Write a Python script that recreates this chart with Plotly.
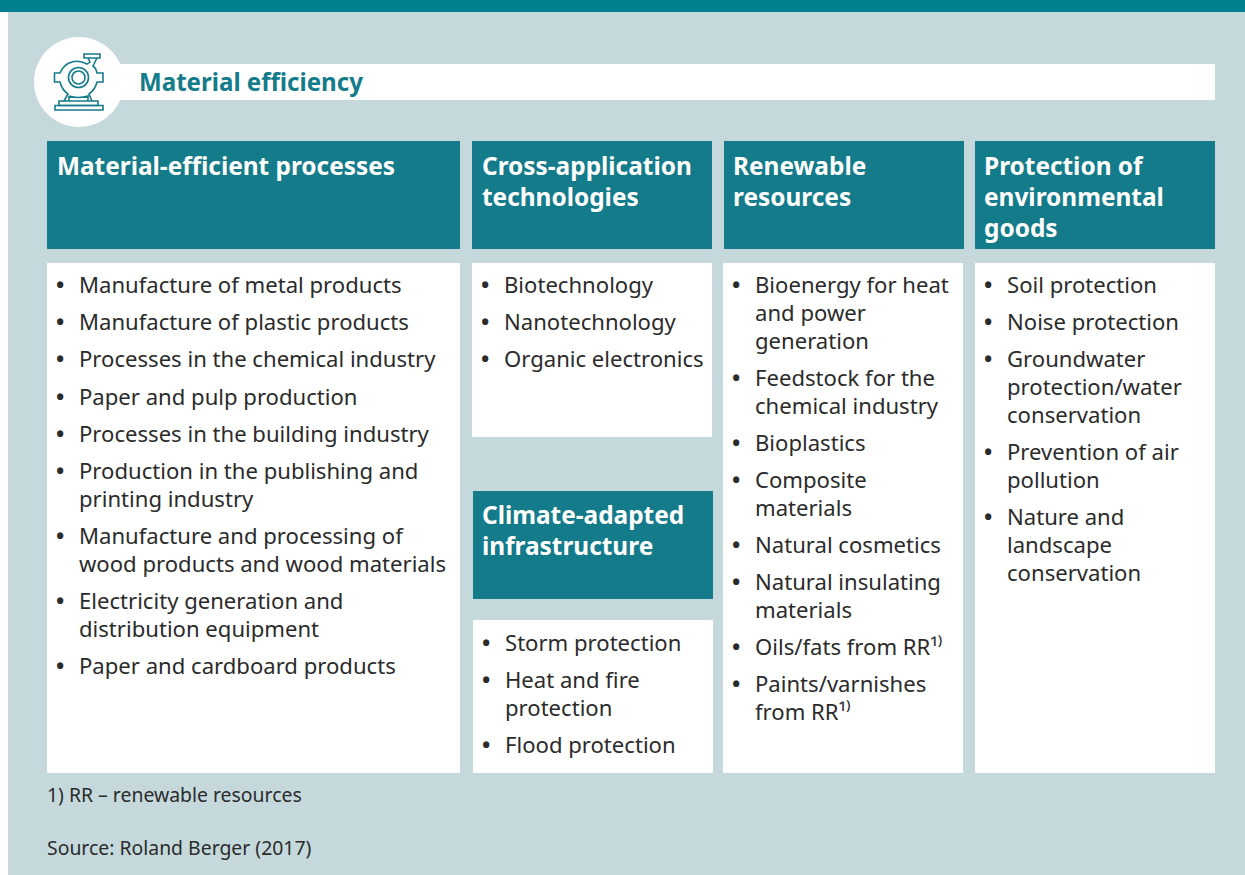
import plotly.graph_objects as go

# ---------- content ----------
title = "Material efficiency"
col1_head = ["Material-efficient processes"]
col2_head = ["Cross-application", "technologies"]
col2b_head = ["Climate-adapted", "infrastructure"]
col3_head = ["Renewable", "resources"]
col4_head = ["Protection of", "environmental", "goods"]

col1_items = [
    ["Manufacture of metal products"],
    ["Manufacture of plastic products"],
    ["Processes in the chemical industry"],
    ["Paper and pulp production"],
    ["Processes in the building industry"],
    ["Production in the publishing and", "printing industry"],
    ["Manufacture and processing of", "wood products and wood materials"],
    ["Electricity generation and", "distribution equipment"],
    ["Paper and cardboard products"],
]
col2_items = [["Biotechnology"], ["Nanotechnology"], ["Organic electronics"]]
col2b_items = [["Storm protection"], ["Heat and fire", "protection"], ["Flood protection"]]
col3_items = [
    ["Bioenergy for heat", "and power", "generation"],
    ["Feedstock for the", "chemical industry"],
    ["Bioplastics"],
    ["Composite", "materials"],
    ["Natural cosmetics"],
    ["Natural insulating", "materials"],
    ["Oils/fats from RR\u00b9\u207e"],
    ["Paints/varnishes", "from RR\u00b9\u207e"],
]
col4_items = [
    ["Soil protection"],
    ["Noise protection"],
    ["Groundwater", "protection/water", "conservation"],
    ["Prevention of air", "pollution"],
    ["Nature and", "landscape", "conservation"],
]
footnote = "1) RR \u2013 renewable resources"
source = "Source: Roland Berger (2017)"

# ---------- styles ----------
BAND = "#00808c"
BG = "#c5d9dc"
HEAD = "#147b8a"
INK = "#2b2b2b"
FONT = "Noto Sans"
BODY_SIZE = 22.1
HEAD_SIZE = 24.4
LINE_STEP = 27.8
ITEM_GAP = 37.2

fig = go.Figure()
shapes = []
anns = []


def rect(x0, y0, x1, y1, color):
    shapes.append(dict(type="rect", x0=x0, y0=y0, x1=x1, y1=y1,
                       fillcolor=color, line=dict(width=0), layer="below"))


def text(x, y, s, size=BODY_SIZE, color=INK, bold=False):
    anns.append(dict(x=x, y=y, text=f"<b>{s}</b>" if bold else s, showarrow=False,
                     xanchor="left", yanchor="middle", align="left",
                     xref="x", yref="y",
                     font=dict(family=FONT, size=size, color=color),
                     borderpad=0, borderwidth=0))


def bullets(x, y, items):
    for item in items:
        text(x - 1, y, "\u2022", bold=True)
        for i, ln in enumerate(item):
            text(x + 21.5, y + i * LINE_STEP, ln)
        y += (len(item) - 1) * LINE_STEP + ITEM_GAP


def header(x, y, lines):
    for i, ln in enumerate(lines):
        text(x, y + i * 31, ln, size=HEAD_SIZE, color="white", bold=True)


# frame
rect(0, 0, 8, 875, "white")
rect(8, 0, 1245, 875, BG)
rect(0, 0, 1245, 12, BAND)
rect(100, 64, 1215, 100, "white")
shapes.append(dict(type="circle", x0=34, y0=37, x1=124, y1=127,
                   fillcolor="white", line=dict(width=0), layer="below"))

# icon
ICON = dict(color=HEAD, width=1.6)
for (x0, y0, x1, y1) in [(84, 54, 100, 58), (55, 105.5, 103, 110), (59, 101, 98, 105.5)]:
    shapes.append(dict(type="rect", x0=x0, y0=y0, x1=x1, y1=y1, line=ICON))
for r in (10, 6.5):
    shapes.append(dict(type="circle", x0=78.5 - r, y0=77.5 - r, x1=78.5 + r, y1=77.5 + r, line=ICON))
shapes.append(dict(type="path", line=ICON, path=(
    "M 88 58 L 90 62 Q 89 63 87 64 Q 78 59 69 63 Q 63 66 60 73 L 54.5 73 L 54.5 82 L 60 82 "
    "Q 62 90 68 94 L 64 101 M 92 101 L 89 94 Q 95 90 97 82 L 103 82 L 103 73 L 97 73 "
    "Q 96 68 93 66 L 97 58 M 69 96 L 69 101 M 69 96 Q 78 99 88 96 L 88 101")))

# boxes
rect(47, 141, 460, 249, HEAD)
rect(472, 141, 712, 249, HEAD)
rect(724, 141, 964, 249, HEAD)
rect(975, 141, 1215, 249, HEAD)
rect(473, 491, 713, 599, HEAD)
rect(47, 263, 460, 773, "white")
rect(472, 263, 712, 437, "white")
rect(473, 620, 713, 773, "white")
rect(723, 263, 963, 773, "white")
rect(975, 263, 1215, 773, "white")

# text
text(138.5, 81, title, size=24.1, color=HEAD, bold=True)
header(56.5, 165, col1_head)
header(482, 165, col2_head)
header(733, 165, col3_head)
header(984, 165, col4_head)
header(482, 514, col2b_head)
bullets(57, 284, col1_items)
bullets(482, 284, col2_items)
bullets(733, 284, col3_items)
bullets(985, 284, col4_items)
bullets(483, 642, col2b_items)
text(47, 794, footnote, size=19.4)
text(47, 847, source, size=19.4)

fig.update_layout(
    width=1245, height=875, margin=dict(l=0, r=0, t=0, b=0),
    paper_bgcolor="white", plot_bgcolor="white", showlegend=False,
    xaxis=dict(range=[0, 1245], visible=False, fixedrange=True),
    yaxis=dict(range=[875, 0], visible=False, fixedrange=True),
    shapes=shapes, annotations=anns,
)
fig.write_html("out.html", config={"displayModeBar": False},
               post_script="document.body.style.margin='0';document.body.style.overflow='hidden';")
